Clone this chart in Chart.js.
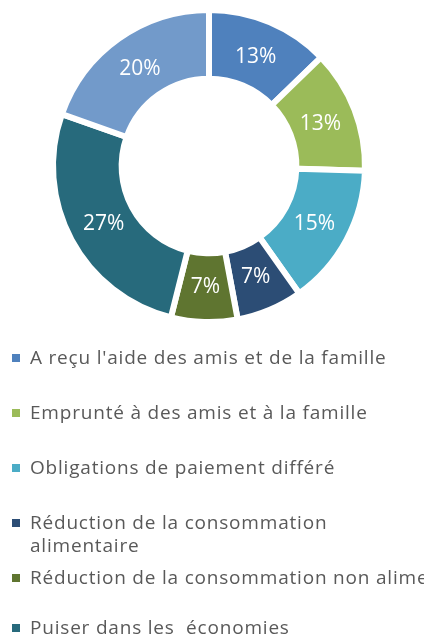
<!DOCTYPE html>
<html>
<head>
<meta charset="utf-8">
<script src="https://cdn.jsdelivr.net/npm/chart.js@4/dist/chart.umd.min.js"></script>
<style>
  html, body { margin: 0; padding: 0; background: #fff; }
  body { width: 424px; height: 640px; overflow: hidden; position: relative; font-family: "Open Sans", sans-serif; }
  #wrap { position: absolute; left: 0; top: 0; width: 424px; height: 330px; }
  #legend { position: absolute; left: 0; top: 0; width: 424px; height: 640px; overflow: hidden; }
  .item { position: absolute; left: 12px; width: 412px; color: #595959; font-size: 19px; line-height: 23px; letter-spacing: 0.8px; }
  .item .box { position: absolute; left: 0; top: 8px; width: 8px; height: 8px; }
  .item .txt { margin-left: 18px; display: block; }
</style>
</head>
<body>
<div id="wrap"><canvas id="chart"></canvas></div>
<div id="legend"></div>
<script>
const labels = [
  "A reçu l'aide des amis et de la famille",
  "Emprunté à des amis et à la famille",
  "Obligations de paiement différé",
  "Réduction de la consommation alimentaire",
  "Réduction de la consommation non alimentaire",
  "Puiser dans les  économies",
  "Autres"
];
const values = [13, 13, 15, 7, 7, 27, 20];
const colors = ["#4f81bd", "#9bbb59", "#4bacc6", "#2c4d75", "#5f7530", "#276a7c", "#729aca"];

// legend rows (text line centre), as in the source image
const legendRowY = [358, 413, 468, 523, 578, 628, 683];

function buildLegend() {
  const box = document.getElementById("legend");
  labels.forEach((lab, i) => {
    const div = document.createElement("div");
    div.className = "item";
    div.style.top = (legendRowY[i] - 12) + "px";
    const sq = document.createElement("span");
    sq.className = "box";
    sq.style.background = colors[i];
    const t = document.createElement("span");
    t.className = "txt";
    t.textContent = lab;
    t.style.whiteSpace = i === 4 ? "pre" : "pre-wrap";
    div.appendChild(sq);
    div.appendChild(t);
    box.appendChild(div);
  });
}

const pctLabels = {
  id: "pctLabels",
  afterDatasetsDraw(chart) {
    const ctx = chart.ctx;
    const meta = chart.getDatasetMeta(0);
    ctx.save();
    ctx.fillStyle = "#ffffff";
    ctx.font = "21px 'Open Sans', sans-serif";
    ctx.textAlign = "center";
    ctx.textBaseline = "middle";
    meta.data.forEach((arc, i) => {
      const a = (arc.startAngle + arc.endAngle) / 2;
      const r = arc.innerRadius + (arc.outerRadius - arc.innerRadius) * 0.47;
      ctx.fillText(values[i] + "%", arc.x + Math.cos(a) * r, arc.y + Math.sin(a) * r + 1);
    });
    ctx.restore();
  }
};

buildLegend();

new Chart(document.getElementById("chart"), {
  type: "doughnut",
  data: {
    labels: labels,
    datasets: [{
      data: values,
      backgroundColor: colors,
      borderColor: "#ffffff",
      borderWidth: 6,
      borderJoinStyle: "miter"
    }]
  },
  options: {
    responsive: true,
    maintainAspectRatio: false,
    animation: false,
    cutout: "56%",
    layout: { padding: { top: 7, bottom: 5, left: 0, right: 6 } },
    plugins: {
      legend: { display: false },
      tooltip: { enabled: false }
    }
  },
  plugins: [pctLabels]
});
</script>
</body>
</html>
